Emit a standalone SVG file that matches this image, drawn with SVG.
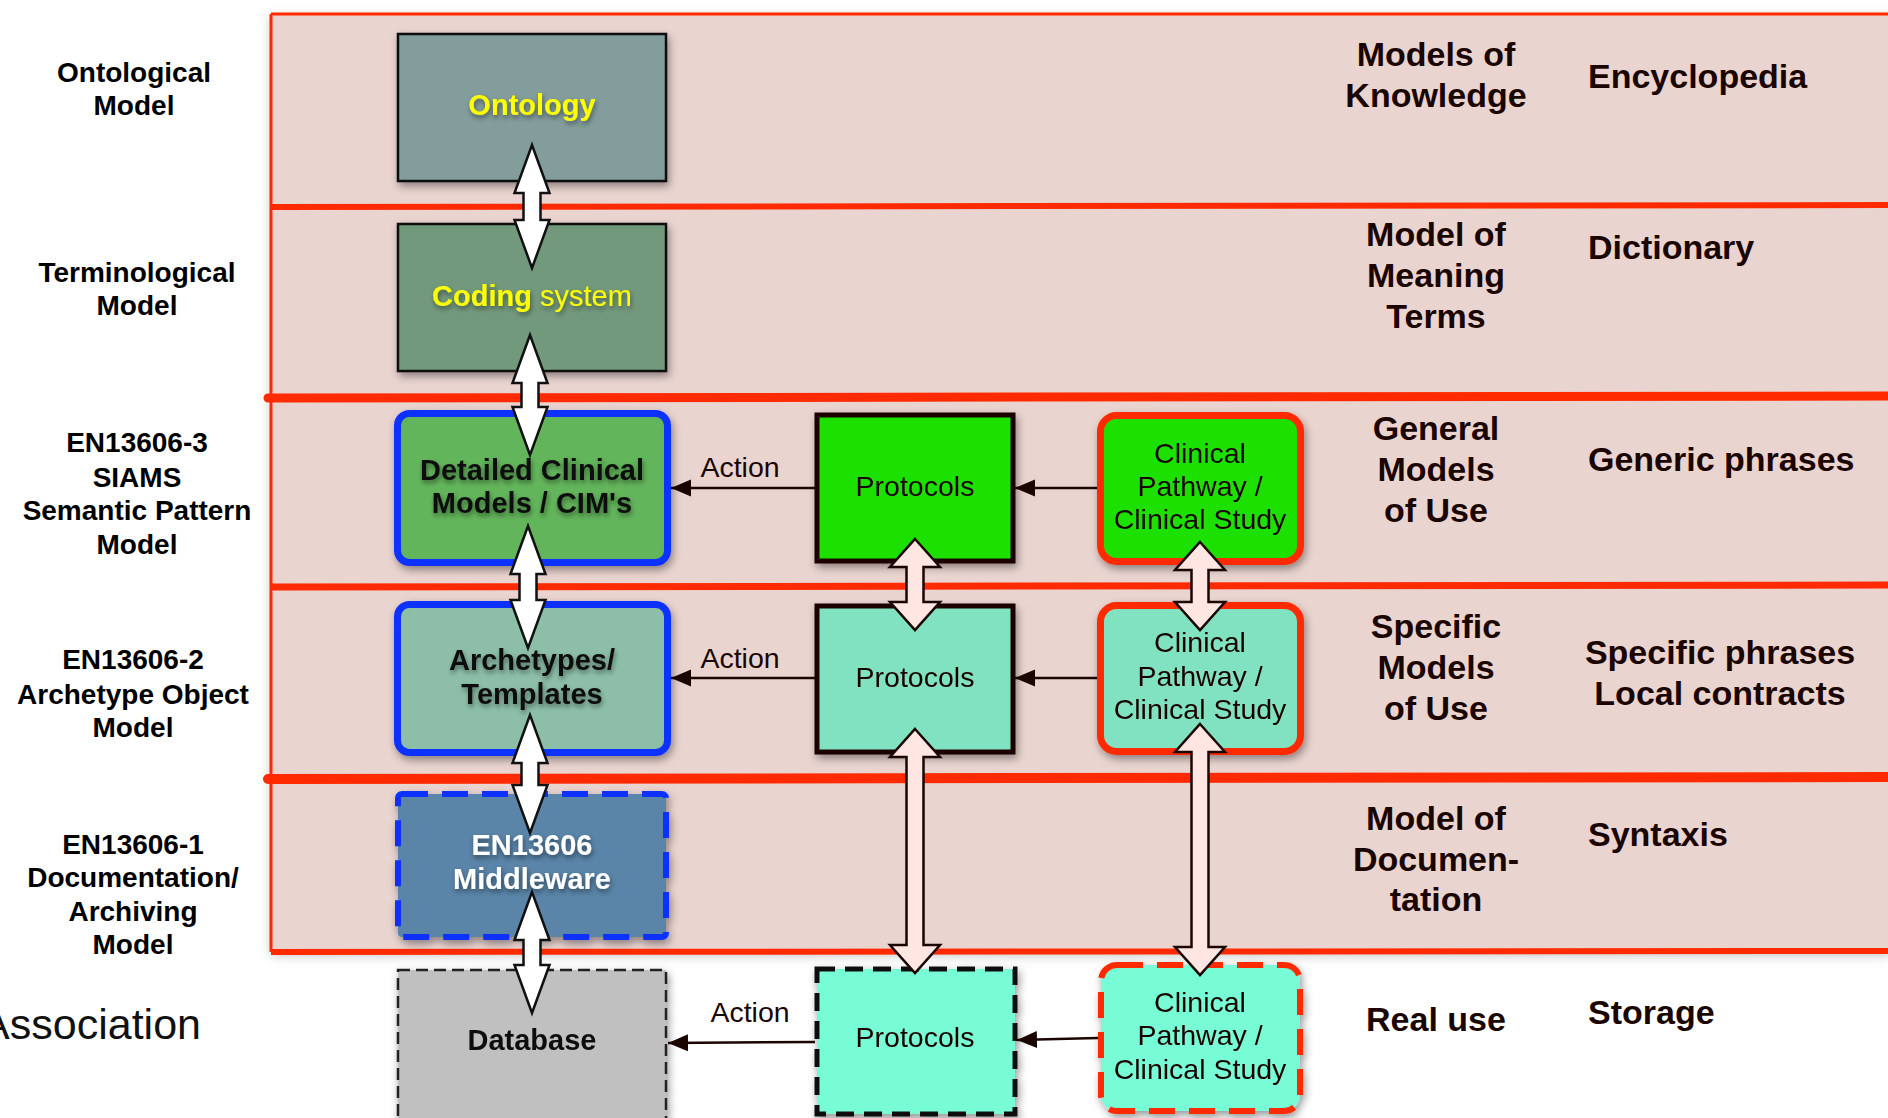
<svg xmlns="http://www.w3.org/2000/svg" width="1888" height="1118" viewBox="0 0 1888 1118">
<defs>
<filter id="bs" x="-20%" y="-20%" width="140%" height="140%"><feDropShadow dx="2" dy="4" stdDeviation="4" flood-color="#000" flood-opacity="0.4"/></filter>
<filter id="ps" x="-5%" y="-5%" width="110%" height="110%"><feDropShadow dx="0" dy="3" stdDeviation="6" flood-color="#000" flood-opacity="0.25"/></filter>
<filter id="ts" x="-20%" y="-40%" width="140%" height="180%"><feDropShadow dx="1" dy="3" stdDeviation="2.5" flood-color="#000" flood-opacity="0.45"/></filter>
<marker id="ah" markerUnits="userSpaceOnUse" markerWidth="22" markerHeight="18" refX="20" refY="8.5" orient="auto"><path d="M0,0 L20,8.5 L0,17 Z" fill="#1a0500"/></marker>
</defs>
<style>
.lab{font-family:"Liberation Sans",Arial,sans-serif;font-weight:bold;font-size:28px;fill:#000;text-anchor:middle}
.rt{font-family:"Liberation Sans",Arial,sans-serif;font-weight:bold;font-size:34px;fill:#1a0500}
.nt{font-family:"Liberation Sans",Arial,sans-serif;font-weight:bold;font-size:29px;text-anchor:middle}
.rg{font-family:"Liberation Sans",Arial,sans-serif;font-size:28.5px;fill:#1a0500;text-anchor:middle}
.box{filter:url(#bs)}
.red{stroke:#FF2A00;fill:none}
.dw{fill:#fff;stroke:#111;stroke-width:2.5;stroke-linejoin:miter}
.dp{fill:#FFE6E2;stroke:#1a0500;stroke-width:2.5}
.act{stroke:#1a0500;stroke-width:2.5;fill:none;marker-end:url(#ah)}
</style>
<rect width="1888" height="1118" fill="#fff"/>
<g id="bands">
<rect x="271" y="14" width="1620" height="938" fill="#EAD4D0" filter="url(#ps)"/>
<line x1="271" y1="14" x2="1888" y2="14" class="red" stroke-width="3"/>
<line x1="271" y1="14" x2="271" y2="952" class="red" stroke-width="3"/>
<line x1="271" y1="207" x2="1888" y2="205" class="red" stroke-width="6"/>
<line x1="268" y1="398" x2="1888" y2="396" class="red" stroke-width="9" stroke-linecap="round"/>
<line x1="271" y1="587" x2="1888" y2="585" class="red" stroke-width="7"/>
<line x1="268" y1="779" x2="1888" y2="777" class="red" stroke-width="10" stroke-linecap="round"/>
<line x1="271" y1="952" x2="1888" y2="951" class="red" stroke-width="6"/>
</g>
<g id="ontology" class="box"><rect x="398" y="34" width="268" height="147" fill="#829D9B" stroke="#111" stroke-width="2.5"/><text x="532" y="115" class="nt" fill="#FFFF00" filter="url(#ts)">Ontology</text></g>
<g id="coding" class="box"><rect x="398" y="224" width="268" height="147" fill="#73997C" stroke="#111" stroke-width="2.5"/><text x="532" y="306" class="nt" fill="#FFFF00" filter="url(#ts)">Coding<tspan font-weight="normal"> system</tspan></text></g>
<g id="dcm" class="box"><rect x="397.5" y="413.5" width="270" height="149" rx="12" fill="#63B55B" stroke="#0A33FF" stroke-width="7"/><text class="nt" fill="#111" filter="url(#ts)"><tspan x="532" y="480">Detailed Clinical</tspan><tspan x="532" y="513">Models / CIM's</tspan></text></g>
<g id="archetypes" class="box"><rect x="397.5" y="604.5" width="270" height="148" rx="12" fill="#8DBFA8" stroke="#0A33FF" stroke-width="7"/><text class="nt" fill="#111" filter="url(#ts)"><tspan x="532" y="670">Archetypes/</tspan><tspan x="532" y="704">Templates</tspan></text></g>
<g id="middleware" class="box"><rect x="398" y="794" width="268" height="143" rx="4" fill="#5A84A8" stroke="#0A33FF" stroke-width="6" stroke-dasharray="26 14"/><text class="nt" fill="#fff" filter="url(#ts)"><tspan x="532" y="855">EN13606</tspan><tspan x="532" y="889">Middleware</tspan></text></g>
<g id="database" class="box"><rect x="398" y="970" width="268" height="165" fill="#C0C0C0" stroke="#222" stroke-width="2.5" stroke-dasharray="12 6"/><text x="532" y="1050" class="nt" fill="#111">Database</text></g>
<g id="protocols1" class="box"><rect x="817" y="415" width="196" height="146" fill="#1EE000" stroke="#1a0500" stroke-width="5"/><text x="915" y="496" class="rg">Protocols</text></g>
<g id="protocols2" class="box"><rect x="817" y="606" width="196" height="146" fill="#80E2C0" stroke="#1a0500" stroke-width="5"/><text x="915" y="687" class="rg">Protocols</text></g>
<g id="protocols3" class="box"><rect x="817" y="969" width="198" height="145" fill="#78FCD6" stroke="#111" stroke-width="5" stroke-dasharray="18 10"/><text x="915" y="1047" class="rg">Protocols</text></g>
<g id="pathway1" class="box"><rect x="1100.5" y="415.5" width="200" height="146" rx="16" fill="#1EE000" stroke="#FF2A00" stroke-width="7"/><text class="rg"><tspan x="1200" y="463">Clinical</tspan><tspan x="1200" y="496">Pathway /</tspan><tspan x="1200" y="529">Clinical Study</tspan></text></g>
<g id="pathway2" class="box"><rect x="1100.5" y="605.5" width="200" height="146" rx="16" fill="#80E2C0" stroke="#FF2A00" stroke-width="7"/><text class="rg"><tspan x="1200" y="652">Clinical</tspan><tspan x="1200" y="686">Pathway /</tspan><tspan x="1200" y="719">Clinical Study</tspan></text></g>
<g id="pathway3" class="box"><rect x="1101" y="965" width="199" height="146" rx="16" fill="#78FCD6" stroke="#FF2A00" stroke-width="6" stroke-dasharray="26 14"/><text class="rg"><tspan x="1200" y="1012">Clinical</tspan><tspan x="1200" y="1045">Pathway /</tspan><tspan x="1200" y="1079">Clinical Study</tspan></text></g>
<g id="connectors">
<line x1="815" y1="488" x2="671" y2="488" class="act"/>
<line x1="1097" y1="488" x2="1015" y2="488" class="act"/>
<line x1="815" y1="678" x2="671" y2="678" class="act"/>
<line x1="1097" y1="678" x2="1015" y2="678" class="act"/>
<line x1="815" y1="1042" x2="668" y2="1043" class="act"/>
<line x1="1098" y1="1038" x2="1017" y2="1040" class="act"/>
<text x="740" y="477" class="rg">Action</text>
<text x="740" y="668" class="rg">Action</text>
<text x="750" y="1022" class="rg">Action</text>
<polygon class="dw" points="532,145 549.5,193 540.5,193 540.5,220 549.5,220 532,268 514.5,220 523.5,220 523.5,193 514.5,193"/>
<polygon class="dw" points="530,335 547.5,383 538.5,383 538.5,407 547.5,407 530,455 512.5,407 521.5,407 521.5,383 512.5,383"/>
<polygon class="dw" points="528,526 545.5,574 536.5,574 536.5,600 545.5,600 528,648 510.5,600 519.5,600 519.5,574 510.5,574"/>
<polygon class="dw" points="530,715 547.5,763 538.5,763 538.5,785 547.5,785 530,833 512.5,785 521.5,785 521.5,763 512.5,763"/>
<polygon class="dw" points="532,892 549.5,940 540.5,940 540.5,965 549.5,965 532,1013 514.5,965 523.5,965 523.5,940 514.5,940"/>
<polygon class="dp" points="915,539 940,567 923.5,567 923.5,602 940,602 915,630 890,602 906.5,602 906.5,567 890,567"/>
<polygon class="dp" points="1200,542 1225,570 1208.5,570 1208.5,602 1225,602 1200,630 1175,602 1191.5,602 1191.5,570 1175,570"/>
<polygon class="dp" points="915,729 940,757 923.5,757 923.5,945 940,945 915,973 890,945 906.5,945 906.5,757 890,757"/>
<polygon class="dp" points="1200,724 1225,752 1208.5,752 1208.5,947 1225,947 1200,975 1175,947 1191.5,947 1191.5,752 1175,752"/>
</g>
<g id="left-labels">
<text class="lab"><tspan x="134" y="82">Ontological</tspan><tspan x="134" y="115">Model</tspan></text>
<text class="lab"><tspan x="137" y="282">Terminological</tspan><tspan x="137" y="315">Model</tspan></text>
<text class="lab"><tspan x="137" y="452">EN13606-3</tspan><tspan x="137" y="487">SIAMS</tspan><tspan x="137" y="520">Semantic Pattern</tspan><tspan x="137" y="554">Model</tspan></text>
<text class="lab"><tspan x="133" y="669">EN13606-2</tspan><tspan x="133" y="704">Archetype Object</tspan><tspan x="133" y="737">Model</tspan></text>
<text class="lab"><tspan x="133" y="854">EN13606-1</tspan><tspan x="133" y="887">Documentation/</tspan><tspan x="133" y="921">Archiving</tspan><tspan x="133" y="954">Model</tspan></text>
<text x="201" y="1039" font-family="Liberation Sans, Arial, sans-serif" font-size="43" text-anchor="end" fill="#111">Association</text>
</g>
<g id="right-labels">
<text class="rt" text-anchor="middle"><tspan x="1436" y="66">Models of</tspan><tspan x="1436" y="107">Knowledge</tspan></text>
<text class="rt" text-anchor="middle"><tspan x="1436" y="246">Model of</tspan><tspan x="1436" y="287">Meaning</tspan><tspan x="1436" y="328">Terms</tspan></text>
<text class="rt" text-anchor="middle"><tspan x="1436" y="440">General</tspan><tspan x="1436" y="481">Models</tspan><tspan x="1436" y="522">of Use</tspan></text>
<text class="rt" text-anchor="middle"><tspan x="1436" y="638">Specific</tspan><tspan x="1436" y="679">Models</tspan><tspan x="1436" y="720">of Use</tspan></text>
<text class="rt" text-anchor="middle"><tspan x="1436" y="830">Model of</tspan><tspan x="1436" y="871">Documen-</tspan><tspan x="1436" y="911">tation</tspan></text>
<text class="rt" text-anchor="middle" fill="#000" x="1436" y="1031">Real use</text>
<text class="rt" x="1588" y="88">Encyclopedia</text>
<text class="rt" x="1588" y="259">Dictionary</text>
<text class="rt" x="1588" y="471">Generic phrases</text>
<text class="rt" text-anchor="middle"><tspan x="1720" y="664">Specific phrases</tspan><tspan x="1720" y="705">Local contracts</tspan></text>
<text class="rt" x="1588" y="846">Syntaxis</text>
<text class="rt" x="1588" y="1024" fill="#000">Storage</text>
</g>
</svg>
